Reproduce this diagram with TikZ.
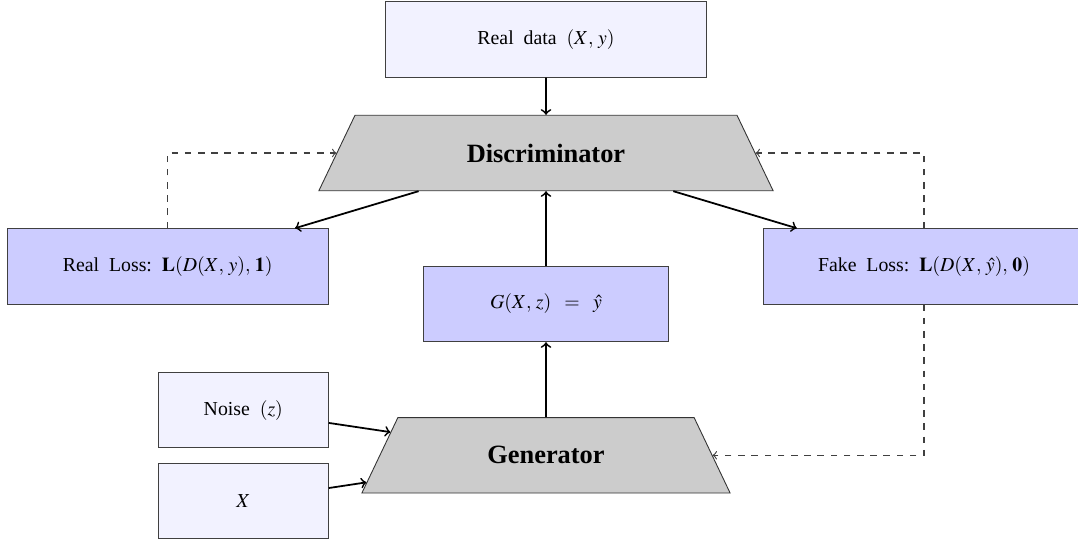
\documentclass[tikz,border=0pt]{standalone}
\usepackage{mathptmx}
\usepackage{fontspec}
\setmainfont{Liberation Serif}
\usetikzlibrary{shapes.geometric}
\tikzset{
  lightbox/.style={draw=black!75, fill=blue!5, minimum height=34.3pt, inner sep=2pt, font=\fontsize{9}{11}\selectfont},
  lossbox/.style={draw=black!75, fill=blue!20, minimum height=34.3pt, inner sep=2pt, font=\fontsize{9}{11}\selectfont},
  netbox/.style={draw=black!80, fill=gray!40, trapezium, trapezium left angle=60, trapezium right angle=60,
    trapezium stretches=true, minimum height=34.3pt, inner sep=2pt, font=\bfseries\fontsize{12}{14}\selectfont},
  mainarrow/.style={->, thick},
  fbarrow/.style={->, dashed, draw=black!75, line width=0.5pt}
}
\begin{document}
\begin{tikzpicture}[x=0.4545pt, y=-0.4545pt]
\useasboundingbox (0,0) rectangle (1078,543);
\node[lightbox, minimum width=145.5pt] (realdata) at (546,39.5) {Real\ \ data\ \ $(X,\,y)$};
\node[netbox, minimum width=207.7pt] (disc) at (546,153) {Discriminator};
\node[lossbox, minimum width=145.7pt] (realloss) at (167.7,266.4) {Real\ \ Loss:\ \ $\mathbf{L}(D(X,\,y),\,\mathbf{1})$};
\node[lossbox, minimum width=145.7pt] (fakeloss) at (924,266.4) {Fake\ \ Loss:\ \ $\mathbf{L}(D(X,\,\hat{y}),\,\mathbf{0})$};
\node[lossbox, minimum width=111.2pt] (gbox) at (546,304) {$G(X,\,z)\;\;=\;\;\hat{y}$};
\node[netbox, minimum width=167.9pt] (gen) at (546,455.3) {Generator};
\node[lightbox, minimum width=77.3pt] (noise) at (243.3,410.2) {Noise\ \ $(z)$};
\node[lightbox, minimum width=77.3pt] (xbox) at (243.3,500.9) {$X$};
\draw[mainarrow] (realdata) -- (disc);
\draw[mainarrow] (disc) -- (realloss);
\draw[mainarrow] (disc) -- (fakeloss);
\draw[mainarrow] (gbox) -- (disc);
\draw[mainarrow] (gen) -- (gbox);
\draw[mainarrow] (noise) -- (gen);
\draw[mainarrow] (xbox) -- (gen);
\draw[fbarrow] (realloss.north) |- (disc.west);
\draw[fbarrow] (fakeloss.north) |- (disc.east);
\draw[fbarrow] (fakeloss.south) |- (gen.east);
\end{tikzpicture}
\end{document}
